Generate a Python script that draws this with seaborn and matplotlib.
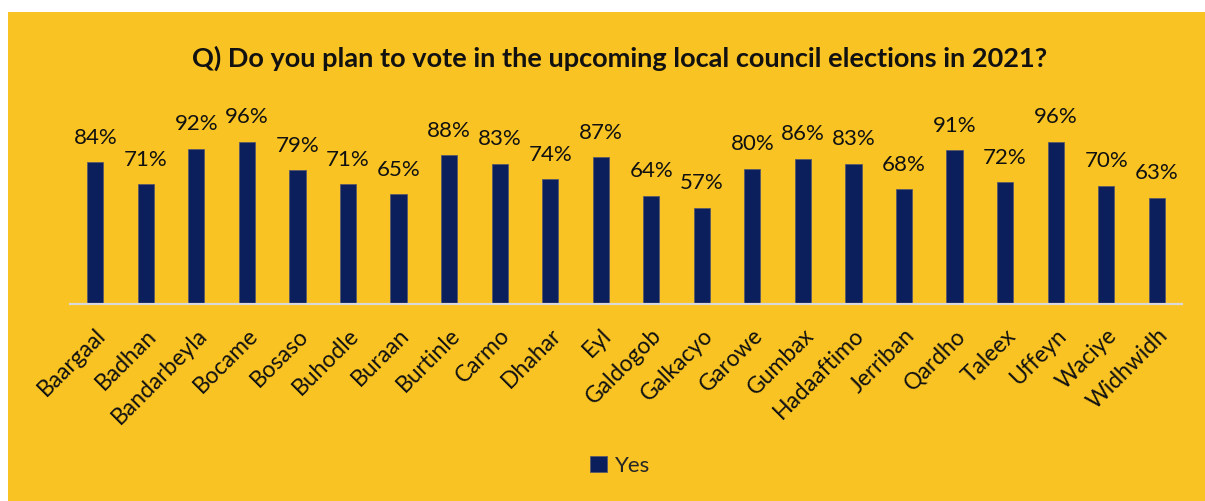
import matplotlib
matplotlib.use("Agg")
import matplotlib.pyplot as plt
import matplotlib.patches as mpatches
import seaborn as sns
import pandas as pd

districts = ["Baargaal", "Badhan", "Bandarbeyla", "Bocame", "Bosaso", "Buhodle",
             "Buraan", "Burtinle", "Carmo", "Dhahar", "Eyl", "Galdogob", "Galkacyo",
             "Garowe", "Gumbax", "Hadaaftimo", "Jerriban", "Qardho", "Taleex",
             "Uffeyn", "Waciye", "Widhwidh"]
yes_pct = [84, 71, 92, 96, 79, 71, 65, 88, 83, 74, 87, 64, 57, 80, 86, 83, 68, 91,
           72, 96, 70, 63]
series_name = "Yes"
title = "Q) Do you plan to vote in the upcoming local council elections in 2021?"

bg = "#F9C323"
bar_color = "#0A1F5C"

sns.set_theme(style="white")
plt.rcParams["font.family"] = ["Lato", "DejaVu Sans"]

W, H = 1205, 501
fig = plt.figure(figsize=(W / 100, H / 100), dpi=100, facecolor="white")
fig.patches.append(mpatches.Rectangle((8 / W, 0), 1 - 8 / W, 1 - 12 / H,
                                      transform=fig.transFigure, facecolor=bg,
                                      edgecolor="none", zorder=-10))

ax = fig.add_axes([70 / W, (H - 304) / H, (1182 - 70) / W, (304 - 110) / H])
ax.set_facecolor("none")

df = pd.DataFrame({"district": districts, "pct": yes_pct})
sns.barplot(data=df, x="district", y="pct", color=bar_color, width=0.32,
            saturation=1, label=series_name, edgecolor="#5a5a6a", linewidth=0.6,
            ax=ax)

ax.set_xlim(-0.5, len(districts) - 0.5)
ax.set_ylim(0, 114.8)

for i, v in enumerate(yes_pct):
    ax.text(i, v + 8.5, f"{v}%", ha="center", va="bottom", fontsize=16,
            color="#111111")

for s in ["top", "right", "left"]:
    ax.spines[s].set_visible(False)
ax.spines["bottom"].set_color("#D9D9D9")
ax.spines["bottom"].set_linewidth(1.6)
ax.set_yticks([])
ax.set_xlabel("")
ax.set_ylabel("")
ax.tick_params(axis="x", length=0, pad=15)
ax.set_xticks(range(len(districts)))
ax.set_xticklabels(districts, rotation=45, ha="right", rotation_mode="anchor",
                   fontsize=16.5, color="#111111")

fig.text(620 / W, 1 - 58 / H, title, ha="center", va="center", fontsize=19.5,
         fontweight="bold", color="#111111")

leg = ax.legend(loc="center", bbox_to_anchor=(620 / W, 1 - 466 / H),
                bbox_transform=fig.transFigure, frameon=False, fontsize=16,
                handlelength=0.75, handleheight=0.75, handletextpad=0.35)

fig.savefig("out.png", dpi=100, facecolor="white")
